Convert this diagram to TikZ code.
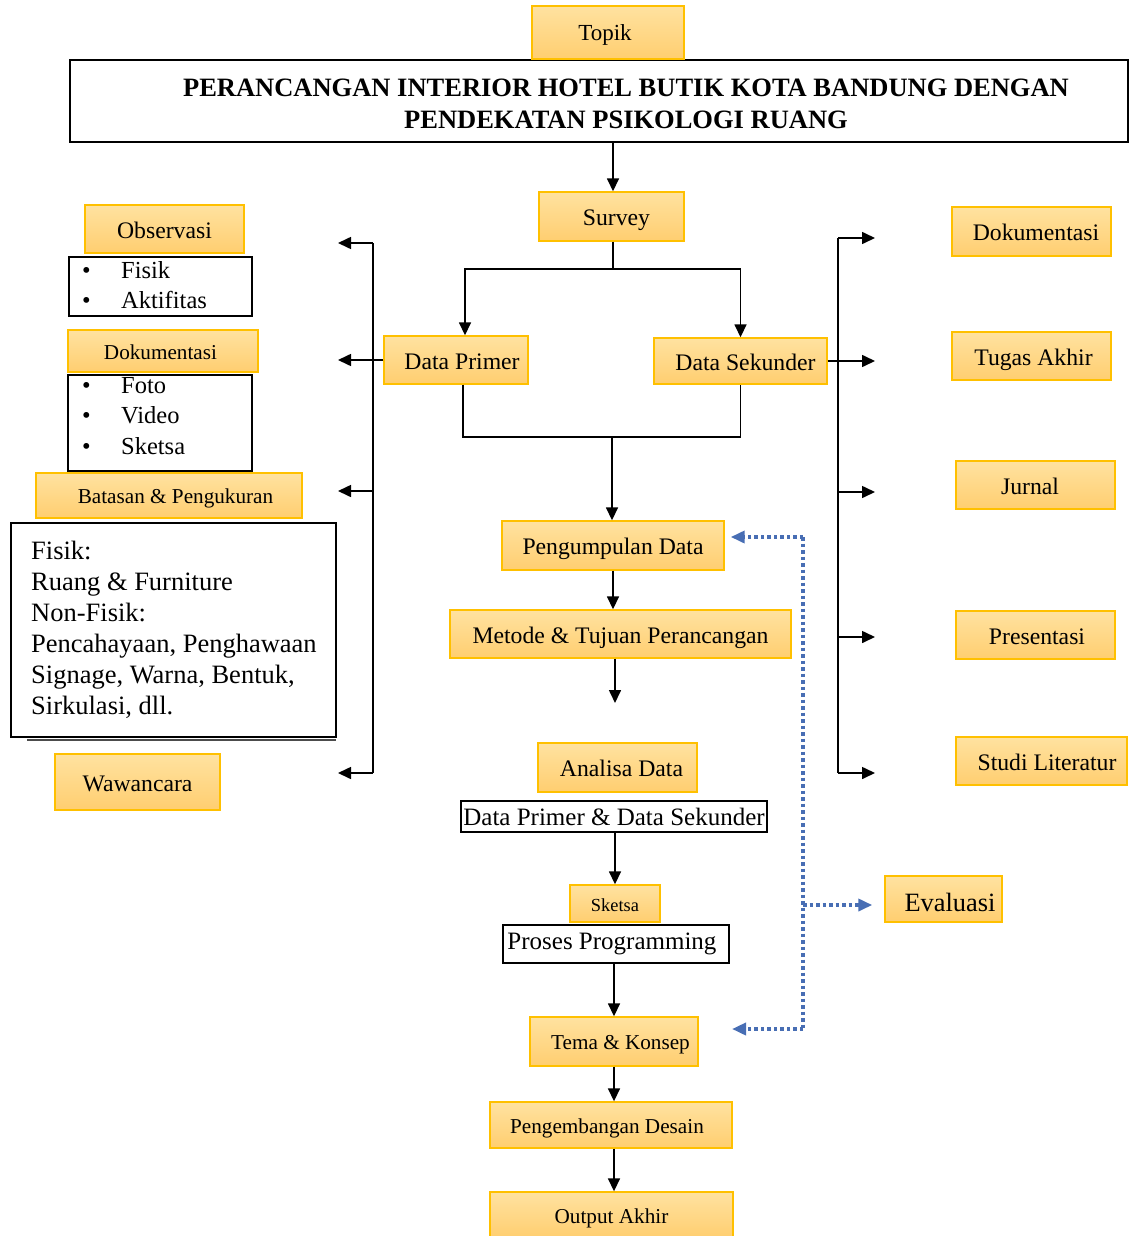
\documentclass[tikz,border=0pt]{standalone}
\usepackage{fontspec}
\setmainfont{Liberation Serif}
\usetikzlibrary{arrows.meta,calc}
\definecolor{gold}{RGB}{255,192,0}
\definecolor{otop}{RGB}{255,226,160}
\definecolor{obot}{RGB}{255,206,112}
\definecolor{dotblue}{RGB}{72,110,180}
\newcommand\fz[2]{\fontsize{#1pt}{#2pt}\selectfont}
\newcommand\pad[1]{\hspace*{#1pt}}
\begin{document}
\begin{tikzpicture}[x=1pt,y=-1pt,
 ob/.style={draw=gold, line width=1.4pt, top color=otop, bottom color=obot, inner sep=0pt,
   font=\fz{23.7}{28}, text height=21.1pt, text depth=2.4pt},
 sa/.style={font=\fz{21.2}{26}, text height=18.1pt, text depth=2.1pt},
 sb/.style={font=\fz{18.4}{22}, text height=17pt, text depth=1.8pt},
 sc/.style={font=\fz{26.4}{32}, text height=28.1pt, text depth=2.6pt},
 sd/.style={font=\fz{23}{28}, text height=18.5pt, text depth=2.3pt},
 wb/.style={draw=black, line width=1.4pt, fill=white, inner sep=0pt},
 ln/.style={line width=1.6pt},
 arr/.style={ln, -{Triangle[length=13pt,width=12pt]}},
 bl/.style={draw=dotblue, line width=3.5pt, dash pattern=on 3.5pt off 3pt},
 blarr/.style={bl, -{Triangle[length=14pt,width=12pt,fill=dotblue]}},
 txt/.style={inner sep=0pt, align=left, anchor=west}
]
\useasboundingbox[fill=white] (0,0) rectangle (1132,1236);

% title and topic
\node[wb, line width=2.8pt, fill=none, minimum width=1058pt, minimum height=82pt] (title) at (599,101) {};
\node[font=\bfseries\fz{26.5}{32}, align=center, inner sep=0pt] (titletext) at (626,104)
  {PERANCANGAN INTERIOR HOTEL BUTIK KOTA BANDUNG DENGAN\\PENDEKATAN PSIKOLOGI RUANG};
\node[ob, sd, minimum width=152pt, minimum height=53pt] (topik) at (608,32.5) {\pad{-6}Topik};

% centre column
\node[ob, minimum width=145pt, minimum height=49pt] (survey) at (611.5,216.5) {\pad{10}Survey};
\node[ob, minimum width=144pt, minimum height=48pt] (dprim) at (456,360) {\pad{12}Data Primer};
\node[ob, minimum width=173pt, minimum height=46pt] (dsek) at (740.5,361) {\pad{10}Data Sekunder};
\node[ob, minimum width=222pt, minimum height=49pt] (peng) at (613,545.5) {Pengumpulan Data};
\node[ob, minimum width=341pt, minimum height=48pt] (metode) at (620.5,634) {Metode \& Tujuan Perancangan};
\node[ob, minimum width=159pt, minimum height=49pt] (analisa) at (617.5,767.5) {\pad{8}Analisa Data};
\node[wb, minimum width=306pt, minimum height=31pt, font=\fz{25}{30}] (dps) at (614,816.5) {Data Primer \& Data Sekunder};
\node[ob, sb, minimum width=90pt, minimum height=37pt] (sketsa) at (615,903.5) {Sketsa};
\node[wb, minimum width=226pt, minimum height=38pt, font=\fz{25}{30}] (proses) at (616,944) {\pad{-8}Proses Programming};
\node[ob, sa, minimum width=168pt, minimum height=49pt] (tema) at (614,1041.5) {\pad{13}Tema \& Konsep};
\node[ob, sa, minimum width=242pt, minimum height=46pt] (pengemb) at (611,1125) {\pad{-8}Pengembangan Desain};
\node[ob, sa, minimum width=243pt, minimum height=46pt] (output) at (611.5,1215) {Output Akhir};

% left column
\node[ob, minimum width=159pt, minimum height=48pt] (obs) at (164.5,229) {Observasi};
\node[wb, minimum width=183pt, minimum height=59pt] (obsl) at (160.5,286.5) {};
\node[txt, font=\fz{24.5}{30}] (obst) at (82,285)
  {\makebox[39pt][l]{\textbullet}Fisik\\\makebox[39pt][l]{\textbullet}Aktifitas};
\node[ob, sa, minimum width=190pt, minimum height=42pt] (dokl) at (163,351) {\pad{-5}Dokumentasi};
\node[wb, minimum width=184pt, minimum height=96pt] (dokll) at (160,423) {};
\node[txt, font=\fz{24.5}{30.5}] (doklt) at (82,416)
  {\makebox[39pt][l]{\textbullet}Foto\\\makebox[39pt][l]{\textbullet}Video\\\makebox[39pt][l]{\textbullet}Sketsa};
\node[ob, sa, minimum width=266pt, minimum height=45pt] (batas) at (169,495.5) {\pad{13}Batasan \& Pengukuran};
\draw[line width=1.4pt, black!70] (27,740) -- (336,740);
\node[wb, minimum width=325pt, minimum height=214pt] (big) at (173.5,630) {};
\node[txt, font=\fz{26.5}{31}] (bigt) at (31,630)
  {Fisik:\\Ruang \& Furniture\\Non-Fisik:\\Pencahayaan, Penghawaan\\Signage, Warna, Bentuk,\\Sirkulasi, dll.};
\node[ob, minimum width=165pt, minimum height=56pt] (waw) at (137.5,782) {Wawancara};

% right column
\node[ob, minimum width=159pt, minimum height=49pt] (dokr) at (1031.5,231.5) {\pad{9}Dokumentasi};
\node[ob, minimum width=159pt, minimum height=48pt] (tugas) at (1031.5,356) {\pad{4}Tugas Akhir};
\node[ob, minimum width=159pt, minimum height=48pt] (jurnal) at (1035.5,485) {\pad{-11}Jurnal};
\node[ob, minimum width=159pt, minimum height=48pt] (pres) at (1035.5,635) {\pad{3}Presentasi};
\node[ob, minimum width=171pt, minimum height=48pt] (studi) at (1041.5,761) {\pad{11}Studi Literatur};
\node[ob, sc, minimum width=117pt, minimum height=46pt] (eval) at (943.5,899) {\pad{13}Evaluasi};

% centre connectors
\coordinate (ta) at (613,170);
\draw[arr] (title.south -| ta) -- (survey.north -| ta);
\coordinate (svj) at (613,269);
\draw[ln] (survey.south -| svj) -- (svj);
\draw[arr] (svj) -| ($(dprim.north)+(9,0)$);
\draw[arr] (svj) -| (dsek.north);
\coordinate (dj) at (612,437);
\draw[ln] ($(dprim.south)+(7,0)$) |- (dj) -| (dsek.south);
\draw[arr] (dj) -- (dj |- peng.north);
\draw[arr] (peng.south) -- (peng.south |- metode.north);
\coordinate (mend) at (615,703);
\draw[arr] (metode.south -| mend) -- (mend);
\draw[arr] (dps.south -| sketsa) -- (sketsa.north);
\draw[arr] (proses.south -| tema) -- (tema.north);
\draw[arr] (tema.south) -- (tema.south |- pengemb.north);
\coordinate (oa) at (614,1170);
\draw[arr] (pengemb.south -| oa) -- (output.north -| oa);

% left bus
\coordinate (lt) at (373,243);
\coordinate (lb) at (373,773);
\coordinate (la1) at (338,243);
\coordinate (la3) at (338,491);
\coordinate (la4) at (338,773);
\draw[ln] (lt) -- (lb);
\draw[arr] (lt) -- (la1);
\draw[arr] (dprim.west) -- (dprim.west -| la1);
\draw[arr] (lt |- la3) -- (la3);
\draw[arr] (lb) -- (la4);

% right bus
\coordinate (rt) at (838,238);
\coordinate (rb) at (838,773);
\coordinate (ra1) at (875,238);
\coordinate (ra3) at (875,492);
\coordinate (ra4) at (875,637);
\coordinate (ra5) at (875,773);
\draw[ln] (rt) -- (rb);
\draw[arr] (rt) -- (ra1);
\draw[arr] (dsek.east) -- (dsek.east -| ra1);
\draw[arr] (rt |- ra3) -- (ra3);
\draw[arr] (rt |- ra4) -- (ra4);
\draw[arr] (rb) -- (ra5);

% blue dotted feedback
\coordinate (bt) at (803,537);
\coordinate (bb) at (803,1029);
\coordinate (bm) at (803,905);
\coordinate (bend) at (732,1029);
\draw[bl] (bt) -- (bb);
\draw[blarr] (bt) -- ($(peng.east |- bt)+(6,0)$);
\draw[blarr] (bb) -- (bend);
\draw[blarr] (bm) -- ($(eval.west |- bm)+(-12,0)$);
\end{tikzpicture}
\end{document}
